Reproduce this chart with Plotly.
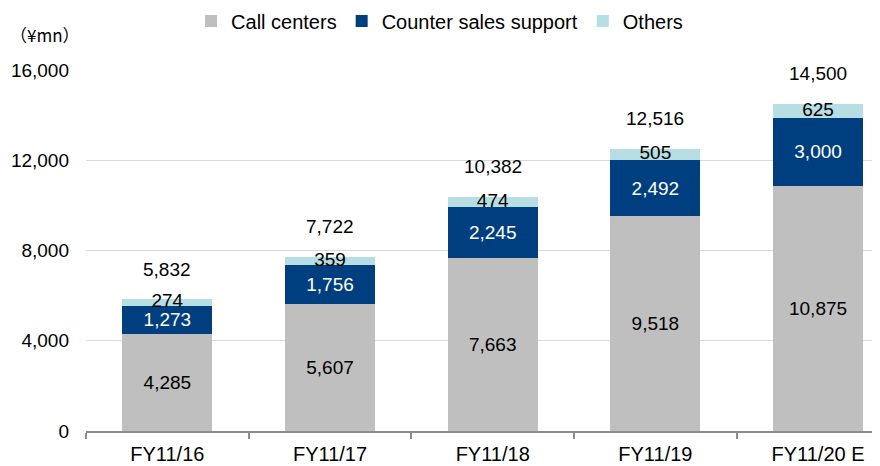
import plotly.graph_objects as go

categories = ["FY11/16", "FY11/17", "FY11/18", "FY11/19", "FY11/20 E"]
call_centers = [4285, 5607, 7663, 9518, 10875]
counter_sales = [1273, 1756, 2245, 2492, 3000]
others = [274, 359, 474, 505, 625]
totals = [5832, 7722, 10382, 12516, 14500]
y_ticks = [0, 4000, 8000, 12000, 16000]

GRAY = "#BFBFBF"
NAVY = "#003F7F"
LIGHT = "#B7DEE2"
FONT = "Liberation Sans, Arial, sans-serif"
FS = 19      # numbers
FS_TXT = 20  # legend / category labels

def fmt(v):
    return f"{v:,}"

fig = go.Figure()
fig.add_trace(go.Bar(name="Call centers", x=categories, y=call_centers,
                     marker=dict(color=GRAY, line=dict(width=0)),
                     text=[fmt(v) for v in call_centers], textposition="inside",
                     insidetextanchor="middle", textangle=0,
                     textfont=dict(color="#000000", size=FS, family=FONT)))
fig.add_trace(go.Bar(name="Counter sales support", x=categories, y=counter_sales,
                     marker=dict(color=NAVY, line=dict(width=0)),
                     text=[fmt(v) for v in counter_sales], textposition="inside",
                     insidetextanchor="middle", textangle=0,
                     textfont=dict(color="#FFFFFF", size=FS, family=FONT)))
fig.add_trace(go.Bar(name="Others", x=categories, y=others,
                     marker=dict(color=LIGHT, line=dict(width=0)),
                     textposition="none"))

# Others labels centered on small segments
others_mid = [c + s + o / 2 for c, s, o in zip(call_centers, counter_sales, others)]
fig.add_trace(go.Scatter(x=categories, y=others_mid, mode="text",
                         text=[fmt(v) for v in others], textposition="middle center",
                         textfont=dict(color="#000000", size=FS, family=FONT),
                         showlegend=False, hoverinfo="skip", cliponaxis=False))

annotations = [dict(x=c, y=t, xref="x", yref="y", text=fmt(t), showarrow=False,
                    yanchor="middle", yshift=30,
                    font=dict(size=FS, family=FONT, color="#000000"))
               for c, t in zip(categories, totals)]
annotations.append(dict(text="（¥mn）", xref="paper", yref="paper", x=-0.097, y=1.097,
                        xanchor="left", yanchor="middle", showarrow=False,
                        font=dict(size=17, family="Noto Sans CJK JP, sans-serif")))

# page body has an 8px margin: offsets compensate so the plot lands where the reference has it
fig.update_layout(
    barmode="stack",
    bargap=0.447,
    width=880, height=466,
    margin=dict(l=78, r=0, t=62, b=43),
    paper_bgcolor="white", plot_bgcolor="white",
    font=dict(family=FONT, size=FS, color="#000000"),
    showlegend=True,
    legend=dict(orientation="h", x=0.131, xanchor="left", y=0.972, yanchor="middle",
                yref="container", font=dict(size=FS_TXT, family=FONT),
                traceorder="normal", tracegroupgap=0, bgcolor="rgba(0,0,0,0)"),
    xaxis=dict(range=[-0.5, 4.43], showgrid=False, showline=True, automargin=False,
               linecolor="#8C8C8C", linewidth=2, ticks="outside",
               tickson="boundaries", ticklen=6, tickwidth=2, tickcolor="#8C8C8C",
               ticklabelstandoff=4,
               tickfont=dict(size=FS_TXT, family=FONT)),
    yaxis=dict(range=[0, 16000], tickvals=y_ticks, automargin=False,
               ticktext=[fmt(v) for v in y_ticks],
               showgrid=True, gridcolor="#D9D9D9", gridwidth=1,
               zeroline=False, showline=False, ticks="",
               ticklabelstandoff=16,
               tickfont=dict(size=FS, family=FONT)),
    annotations=annotations,
)
fig.update_traces(selector=dict(type="bar"), cliponaxis=False)

fig.write_html("out.html")
